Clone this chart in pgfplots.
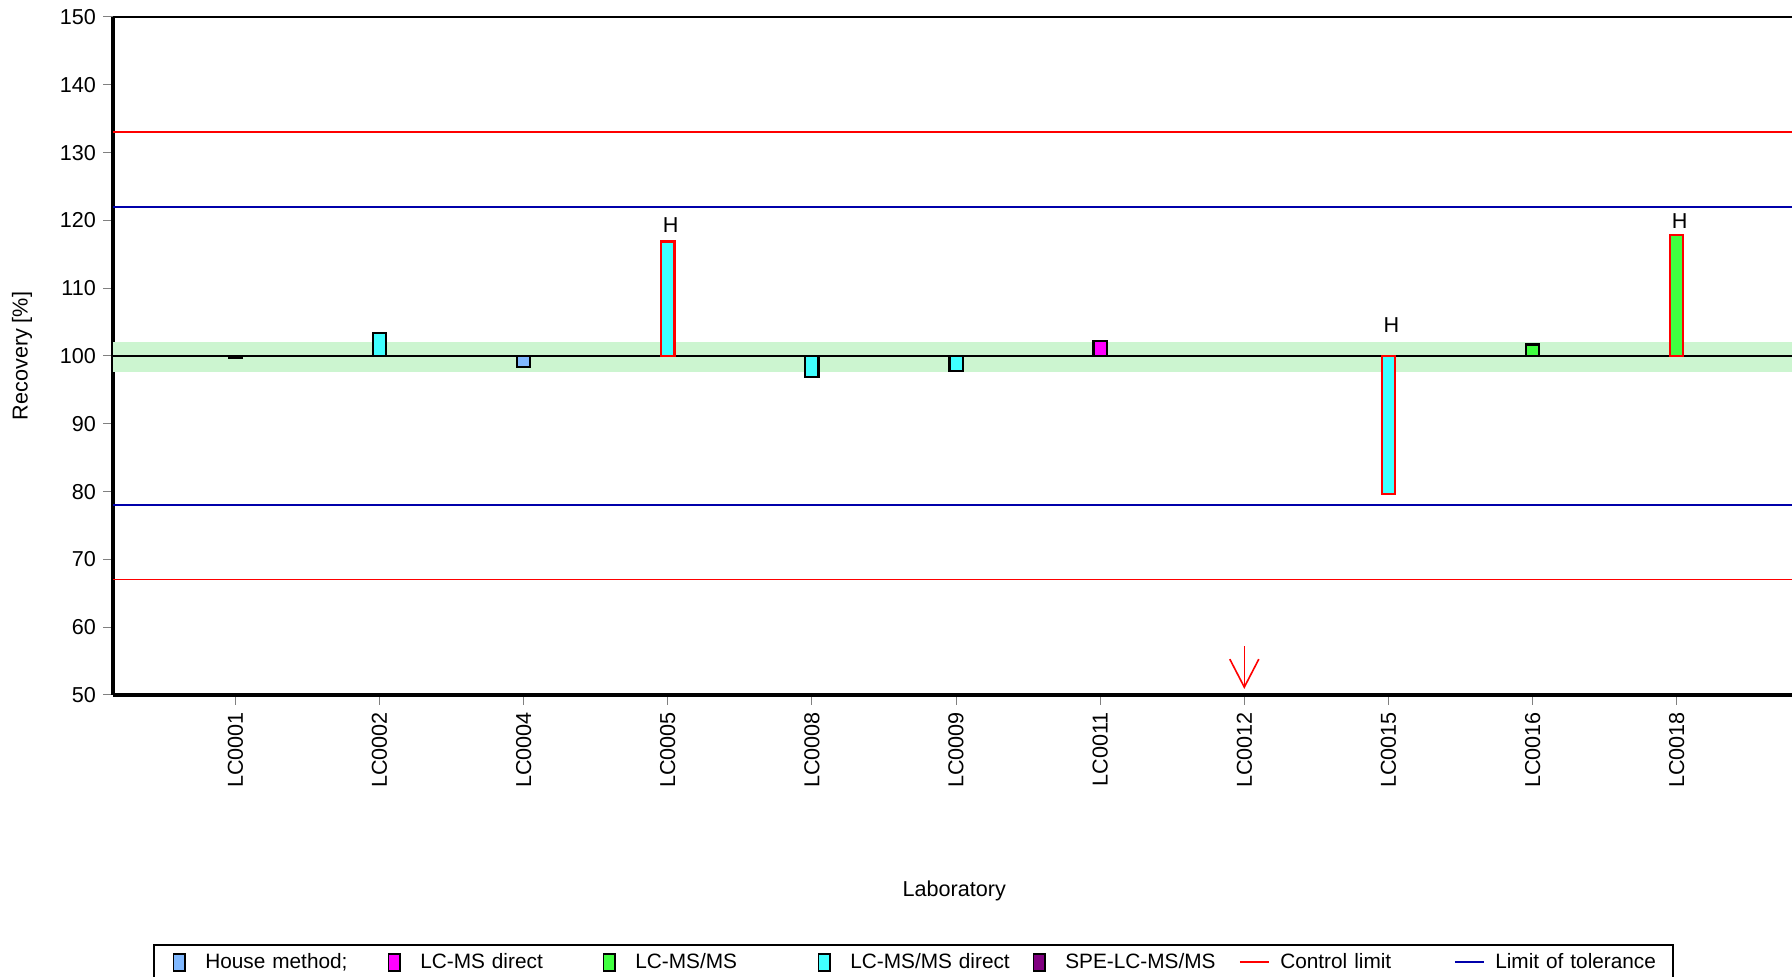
\documentclass[border=0pt]{standalone}
\usepackage{fontspec}
\setmainfont{Liberation Sans}
\usepackage{pgfplots}
\pgfplotsset{compat=1.18}
\usetikzlibrary{arrows.meta}
\definecolor{housec}{RGB}{128,184,255}
\definecolor{lcmsd}{RGB}{255,0,255}
\definecolor{lcmsms}{RGB}{64,255,64}
\definecolor{lcmsmsd}{RGB}{64,255,255}
\definecolor{spe}{RGB}{128,0,128}
\definecolor{bandc}{RGB}{204,245,208}
\definecolor{tolblue}{RGB}{0,0,170}
\definecolor{ctrlred}{RGB}{255,0,0}
\pgfplotsset{
  sqleg/.style={legend image code/.code={\path (0pt,0pt) (17pt,0pt);
     \draw[fill=#1, draw=black, line width=0.8pt] (5.6pt,-4.3pt) rectangle (11.4pt,4.3pt);}},
  lnleg/.style={legend image code/.code={\path (0pt,0pt) (17pt,0pt);
     \draw[#1, line width=1pt] (1.25pt,0pt) -- (15.75pt,0pt);}},
  labbar/.style 2 args={fill=#1, draw=#2, line width=1.1pt, forget plot},
}
\newcommand{\bigf}{\fontsize{10.8}{13}\selectfont}
\newcommand{\legf}{\fontsize{10.4}{12.5}\selectfont}
\begin{document}
\begin{tikzpicture}
\begin{axis}[
  scale only axis, width=839.5pt, height=339pt,
  xmin=-0.849, xmax=10.8, ymin=50, ymax=150,
  axis lines*=left, axis line style={line width=1.8pt, -},
  ytick={50,60,...,150},
  xtick={0,...,10},
  xticklabels={LC0001,LC0002,LC0004,LC0005,LC0008,LC0009,LC0011,LC0012,LC0015,LC0016,LC0018},
  xticklabel style={rotate=90, anchor=east, font=\bigf},
  yticklabel style={font=\bigf},
  tick align=outside, major tick length=5pt,
  tick style={gray, line width=0.5pt},
  /pgf/number format/assume math mode=true,
  ylabel={Recovery [\%]}, xlabel={Laboratory},
  label style={font=\bigf},
  ylabel style={at={(axis description cs:-0.0542,0.5)}, anchor=center},
  xlabel style={at={(axis description cs:0.501,-0.289)}, anchor=center},
  legend columns=7,
  legend cell align=left,
  legend style={at={(axis description cs:0.024,-0.3673)}, anchor=north west,
    draw=black, line width=1pt, inner xsep=3.5pt, inner ysep=2.2pt, font=\legf,
    nodes={text width=81.5pt, inner xsep=4pt, align=left}},
]
\coordinate (tl) at (rel axis cs:0,1);
% tolerance band and reference lines
\addplot[fill=bandc, draw=none, forget plot] coordinates {(-0.849,97.7) (10.8,97.7) (10.8,102.0) (-0.849,102.0)} --cycle;
\addplot[black, line width=0.75pt, forget plot] coordinates {(-0.849,100) (10.8,100)};
\addplot[ctrlred, line width=0.75pt, forget plot] coordinates {(-0.849,133) (10.8,133)};
\addplot[ctrlred, line width=0.75pt, forget plot] coordinates {(-0.849,67) (10.8,67)};
\addplot[tolblue, line width=0.75pt, forget plot] coordinates {(-0.849,122) (10.8,122)};
\addplot[tolblue, line width=0.75pt, forget plot] coordinates {(-0.849,78) (10.8,78)};
\draw[black, line width=0.75pt] (rel axis cs:0,1) -- (rel axis cs:1,1);
% bars (value relative to 100)
\addplot[labbar={lcmsmsd}{black}] coordinates {(-0.046,100) (0.046,100) (0.046,99.7) (-0.046,99.7)} --cycle;
\addplot[labbar={lcmsmsd}{black}] coordinates {(0.954,100) (1.046,100) (1.046,103.4) (0.954,103.4)} --cycle;
\addplot[labbar={housec}{black}] coordinates {(1.954,100) (2.046,100) (2.046,98.4) (1.954,98.4)} --cycle;
\addplot[labbar={lcmsmsd}{ctrlred}] coordinates {(2.954,100) (3.046,100) (3.046,116.9) (2.954,116.9)} --cycle;
\addplot[labbar={lcmsmsd}{black}] coordinates {(3.954,100) (4.046,100) (4.046,96.95) (3.954,96.95)} --cycle;
\addplot[labbar={lcmsmsd}{black}] coordinates {(4.954,100) (5.046,100) (5.046,97.8) (4.954,97.8)} --cycle;
\addplot[labbar={lcmsd}{black}] coordinates {(5.954,100) (6.046,100) (6.046,102.2) (5.954,102.2)} --cycle;
\addplot[labbar={lcmsmsd}{ctrlred}] coordinates {(7.954,100) (8.046,100) (8.046,79.7) (7.954,79.7)} --cycle;
\addplot[labbar={lcmsms}{black}] coordinates {(8.954,100) (9.046,100) (9.046,101.7) (8.954,101.7)} --cycle;
\addplot[labbar={lcmsms}{ctrlred}] coordinates {(9.954,100) (10.046,100) (10.046,117.8) (9.954,117.8)} --cycle;
% out-of-range marker for LC0012
\addplot[ctrlred, line width=0.8pt, -{Straight Barb[length=14pt,width=14.5pt]}, forget plot] coordinates {(7,57.2) (7,50.9)};
\node[font=\bigf] at (axis cs:3.02,119.3) {H};
\node[font=\bigf] at (axis cs:8.02,104.6) {H};
\node[font=\bigf] at (axis cs:10.02,119.9) {H};
% legend
\addlegendimage{sqleg=housec}\addlegendentry{House method;}
\addlegendimage{sqleg=lcmsd}\addlegendentry{LC-MS direct}
\addlegendimage{sqleg=lcmsms}\addlegendentry{LC-MS/MS}
\addlegendimage{sqleg=lcmsmsd}\addlegendentry{LC-MS/MS direct}
\addlegendimage{sqleg=spe}\addlegendentry{SPE-LC-MS/MS}
\addlegendimage{lnleg=ctrlred}\addlegendentry{Control limit}
\addlegendimage{lnleg=tolblue}\addlegendentry{Limit of tolerance}
\end{axis}
\pgfresetboundingbox
\path ([shift={(-56.5pt,8.5pt)}]tl) rectangle ([shift={(839.5pt,-480pt)}]tl);
\end{tikzpicture}
\end{document}
